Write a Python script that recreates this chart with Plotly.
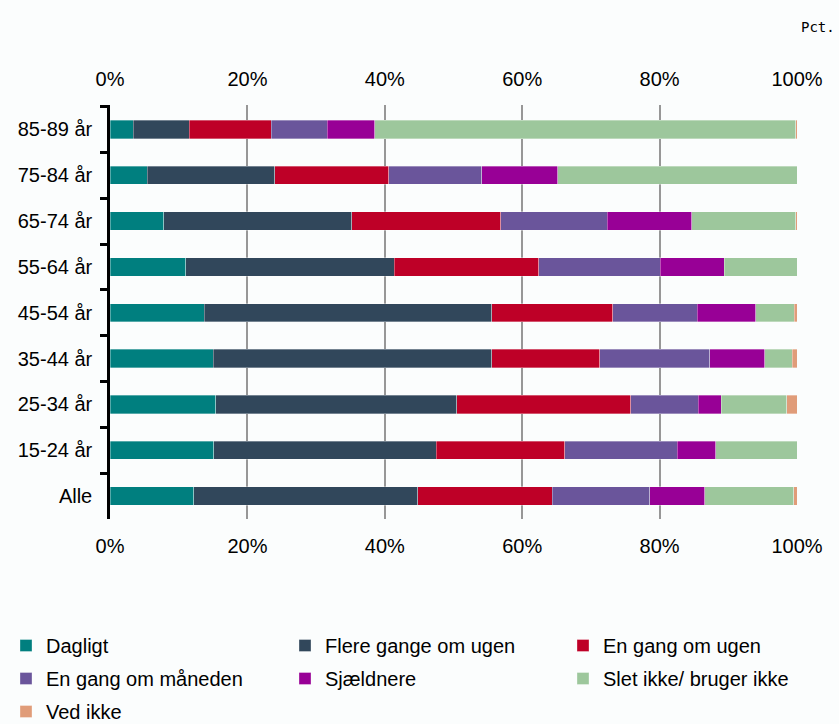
import plotly.graph_objects as go

categories = ["85-89 år", "75-84 år", "65-74 år", "55-64 år", "45-54 år",
              "35-44 år", "25-34 år", "15-24 år", "Alle"]

series_names = ["Dagligt", "Flere gange om ugen", "En gang om ugen",
                "En gang om måneden", "Sjældnere", "Slet ikke/ bruger ikke", "Ved ikke"]

dagligt = [3.4, 5.4, 7.8, 11.0, 13.7, 15.0, 15.4, 15.1, 12.2]
flere_gange = [8.1, 18.6, 27.4, 30.4, 41.9, 40.6, 35.1, 32.4, 32.6]
en_gang_uge = [12.0, 16.6, 21.7, 21.0, 17.6, 15.7, 25.3, 18.7, 19.6]
en_gang_maaned = [8.1, 13.5, 15.5, 17.7, 12.3, 16.0, 9.8, 16.4, 14.2]
sjaeldnere = [6.9, 11.1, 12.3, 9.3, 8.5, 8.0, 3.4, 5.6, 8.0]
slet_ikke = [61.3, 34.8, 15.1, 10.6, 5.6, 4.0, 9.5, 11.8, 12.9]
ved_ikke = [0.2, 0.0, 0.2, 0.0, 0.4, 0.7, 1.5, 0.0, 0.5]

x_ticks = [0, 20, 40, 60, 80, 100]
x_tick_labels = ["0%", "20%", "40%", "60%", "80%", "100%"]

colors = ["#007F7F", "#31475B", "#BE0027", "#6A559B", "#980096", "#9DC79C", "#E09C79"]

values = [dagligt, flere_gange, en_gang_uge, en_gang_maaned, sjaeldnere, slet_ikke, ved_ikke]

# legend column for each series (reference legend is a 3-column grid)
legend_ids = ["legend", "legend2", "legend3", "legend", "legend2", "legend3", "legend"]

FONT = "Liberation Sans, Arial, sans-serif"
BG = "#FBFDFD"

PLOT_W = 839 - 110 - 42
PLOT_H = 724 - 105 - 205

fig = go.Figure()
for name, vals, col, lg in zip(series_names, values, colors, legend_ids):
    fig.add_trace(go.Bar(
        y=categories, x=vals, name=name, orientation="h", legend=lg, legendgroup=name,
        marker=dict(color=col, line=dict(color="rgba(255,255,255,0.55)", width=0.6)),
    ))

# invisible helper trace so the bottom x axis is drawn
fig.add_trace(go.Scatter(
    x=[x_ticks[0], x_ticks[-1]], y=[categories[0], categories[0]], xaxis="x2",
    mode="markers", marker=dict(opacity=0), showlegend=False, hoverinfo="skip",
))

axis_common = dict(
    range=[0, 100], tickmode="array", tickvals=x_ticks, ticktext=x_tick_labels,
    tickfont=dict(family=FONT, size=20, color="#000000"),
    ticks="outside", tickcolor="rgba(0,0,0,0)",
    showline=False, zeroline=False,
)

legend_common = dict(
    orientation="v", traceorder="grouped",
    xref="paper", yref="paper", yanchor="top", xanchor="left",
    font=dict(family=FONT, size=20, color="#000000"),
    bgcolor="rgba(0,0,0,0)", tracegroupgap=4,
)
legend_top = -(626 - 519) / PLOT_H

fig.update_layout(
    width=839, height=724,
    margin=dict(l=110, r=42, t=105, b=205, autoexpand=False),
    paper_bgcolor=BG, plot_bgcolor=BG,
    barmode="stack", bargap=0.6,
    font=dict(family=FONT, size=20, color="#000000"),
    xaxis=dict(side="top", showgrid=True, gridcolor="#979797", gridwidth=2, ticklen=10, **axis_common),
    xaxis2=dict(side="bottom", overlaying="x", anchor="y", showgrid=False, ticklen=9, **axis_common),
    yaxis=dict(
        autorange="reversed", type="category", tickson="boundaries",
        ticks="outside", ticklen=7, tickwidth=2.5, tickcolor="#000000",
        showline=True, linecolor="#000000", linewidth=2.5,
        showgrid=False, zeroline=False, ticklabelstandoff=11,
        tickfont=dict(family=FONT, size=20, color="#000000"),
    ),
    legend=dict(x=(6 - 110) / PLOT_W, y=legend_top, **legend_common),
    legend2=dict(x=(285 - 110) / PLOT_W, y=legend_top, **legend_common),
    legend3=dict(x=(563 - 110) / PLOT_W, y=legend_top, **legend_common),
    annotations=[dict(
        text="Pct.", xref="paper", yref="paper", x=(837 - 110) / PLOT_W, y=1 + (105 - 27) / PLOT_H,
        xanchor="right", yanchor="middle", showarrow=False,
        font=dict(family="DejaVu Sans Mono", size=14, color="#000000"),
    )],
)

fig.write_html("out.html")
